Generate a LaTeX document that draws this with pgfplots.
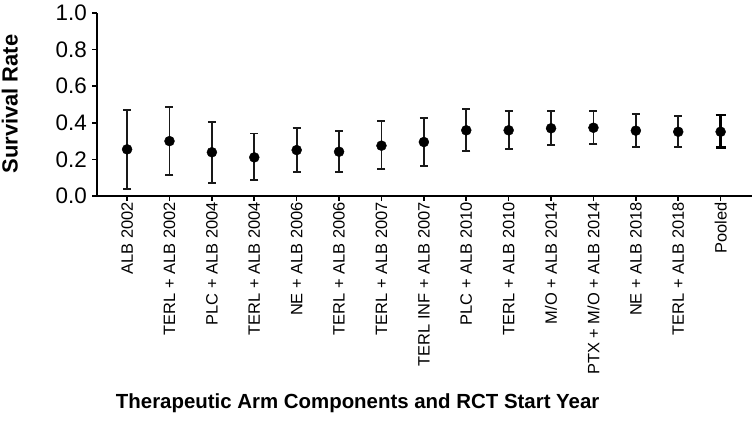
\documentclass[border=0pt]{standalone}
\usepackage{pgfplots}
\usepackage{pgfplotstable}
\pgfplotsset{compat=1.18}
\usepackage{fontspec}
\setmainfont{Liberation Sans}

% survival rate with lower and upper CI bounds per arm
\pgfplotstableread{
x y lo hi
0 0.255 0.038 0.470
1 0.300 0.115 0.485
2 0.239 0.073 0.406
3 0.211 0.086 0.342
4 0.251 0.131 0.370
5 0.242 0.129 0.355
6 0.275 0.146 0.410
7 0.295 0.166 0.426
8 0.359 0.246 0.475
9 0.359 0.255 0.466
10 0.370 0.280 0.463
11 0.373 0.284 0.466
12 0.357 0.268 0.450
13 0.351 0.266 0.439
}\arms
\pgfplotstableread{
x y lo hi
14 0.351 0.266 0.443
}\pooled

\begin{document}
\begin{tikzpicture}
\useasboundingbox (0,0) rectangle (755bp,421bp);
\begin{axis}[
  at={(97bp,225bp)}, anchor=south west,
  scale only axis, width=655bp, height=183bp,
  xmin=-0.71, xmax=14.74, ymin=0, ymax=1,
  axis x line=bottom, axis y line=left,
  axis line style={line width=1.6bp, -},
  every tick/.style={line width=1.6bp, black},
  tick align=outside,
  major tick length=5bp,
  xtick={0,...,14},
  xticklabels={ALB 2002, TERL + ALB 2002, PLC + ALB 2004, TERL + ALB 2004,
    NE + ALB 2006, TERL + ALB 2006, TERL + ALB 2007, TERL INF + ALB 2007,
    PLC + ALB 2010, TERL + ALB 2010, M/O + ALB 2014, PTX + M/O + ALB 2014,
    NE + ALB 2018, TERL + ALB 2018, Pooled},
  xticklabel style={rotate=90, anchor=east, font=\fontsize{16.5}{18}\selectfont, inner sep=1bp},
  ytick={0,0.2,...,1.0},
  yticklabel style={font=\fontsize{22.5}{24}\selectfont, inner sep=2bp, xshift=-3bp,
    /pgf/number format/.cd, fixed, fixed zerofill, precision=1, assume math mode=true},
  ylabel={\textbf{Survival Rate}},
  ylabel style={at={(axis description cs:-0.133,0.503)}, anchor=center,
    font=\fontsize{22}{24}\selectfont},
  xlabel={\textbf{Therapeutic Arm Components and RCT Start Year}},
  xlabel style={at={(axis description cs:0.398,-1.131)}, anchor=center,
    font=\fontsize{20.5}{24}\selectfont},
  clip=false,
]
\addplot[only marks, black, mark=*, mark size=5bp,
  mark options={draw=black, fill=black},
  error bars/.cd, y dir=both, y explicit,
  error bar style={line width=1.8bp, black!90},
  error mark options={rotate=90, mark size=4bp, line width=1.8bp, black!90}]
  table[x=x, y=y, y error plus expr=\thisrow{hi}-\thisrow{y},
        y error minus expr=\thisrow{y}-\thisrow{lo}] {\arms};
\addplot[only marks, black, mark=*, mark size=5bp,
  mark options={draw=black, fill=black},
  error bars/.cd, y dir=both, y explicit,
  error bar style={line width=2.6bp, black},
  error mark options={rotate=90, mark size=5bp, line width=2.4bp, black}]
  table[x=x, y=y, y error plus expr=\thisrow{hi}-\thisrow{y},
        y error minus expr=\thisrow{y}-\thisrow{lo}] {\pooled};
\end{axis}
\end{tikzpicture}
\end{document}
